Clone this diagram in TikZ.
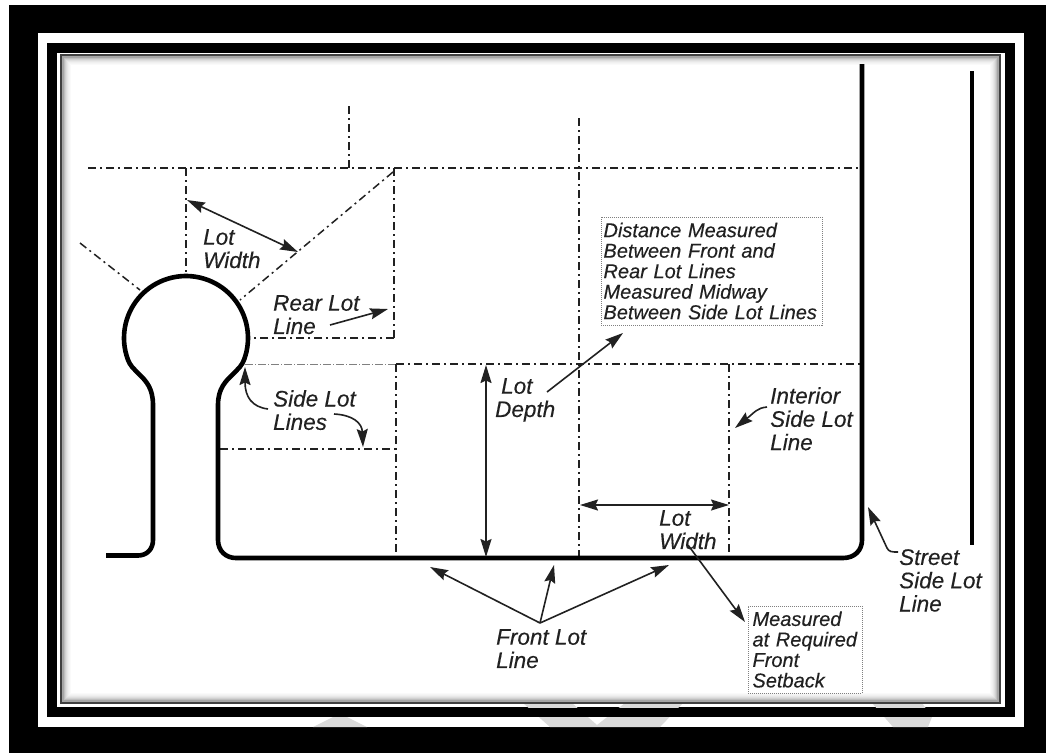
\documentclass[tikz,border=0pt]{standalone}
\usepackage{fontspec}
\setmainfont{Liberation Sans}[ItalicFeatures={FakeBold=0.25}]
\usetikzlibrary{arrows.meta}
\definecolor{wm}{gray}{0.86}
\definecolor{ink}{gray}{0.13}
\tikzset{
  x=1pt,y=-1pt,
  lotline/.style={ink,line width=1.5pt,dash pattern=on 8pt off 4pt on 2pt off 4pt},
  lotheavy/.style={lotline,line width=2pt},
  faintline/.style={gray,line width=0.8pt,dash pattern=on 8pt off 2pt on 1pt off 2pt},
  street/.style={black,line width=4.6pt,line join=round},
  tipped/.tip={Stealth[length=18pt,width=11pt,inset=2.5pt]},
  dim/.style={ink,line width=1.6pt,-tipped},
  dimboth/.style={ink,line width=1.6pt,tipped-tipped},
  lab/.style={inner sep=0pt,anchor=north west,align=left,text=ink,font=\fontsize{22.5}{23.3}\selectfont\itshape},
  note/.style={draw=gray,densely dotted,line width=1pt,inner xsep=2.5pt,inner ysep=0pt,anchor=center,align=left,text=ink,font=\fontsize{20}{20.5}\selectfont\itshape},
}
\newcommand{\wmshapes}{%
  \fill[wm] (313,727) -- (333,717) -- (347,717) -- (367,727) -- cycle;
  \fill[wm] (523,703) -- (572,703) -- (597,725) -- (625,703) -- (683,703) -- (660,727) -- (550,727) -- cycle;
  \fill[wm] (872,703) -- (922,703) -- (932,717) -- (928,727) -- (893,727) -- cycle;
}
\begin{document}
\begin{tikzpicture}
\useasboundingbox (0,0) rectangle (1046,753);
% frame
\fill[white] (0,0) rectangle (1046,753);
\fill[black] (9,5) rectangle (1046,753);
\fill[white] (38,33) rectangle (1024,727);
\begin{scope}\clip (38,717) rectangle (1024,727);\wmshapes\end{scope}
\fill[black] (47,43) rectangle (1015,717);
\fill[white] (57,53) rectangle (1005,707);
\begin{scope}\clip (57,703) rectangle (1005,707);\wmshapes\end{scope}
\fill[white] (61,55) rectangle (1000,703);
\foreach \i/\g in {9/2,8/4,7/6,6/9,5/13,4/18,3/25,2/35}{
  \draw[black!\g,line width=1.1pt] (61+\i,55+\i) rectangle (1000-\i,703-\i);
}
\draw[black!75,line width=2.2pt] (61,55) rectangle (1000,703);
% lot lines
\draw[lotline] (88,168) -- (862,168);
\draw[lotline] (349,106) -- (349,168);
\draw[lotline] (186,168) -- (186,276);
\draw[lotline] (393,172) -- (240,300);
\draw[lotheavy] (394,168) -- (394,338);
\draw[lotline] (394,338) -- (249,338);
\draw[lotline] (80,243) -- (140,290);
\draw[faintline] (245,364) -- (396,364);
\draw[lotline] (396,364) -- (862,364);
\draw[lotheavy] (396,364) -- (396,558);
\draw[lotline] (220,449) -- (396,449);
\draw[lotheavy] (579,118) -- (579,558);
\draw[lotline] (729,364) -- (729,558);
% streets
\draw[street] (106,555.5) -- (138,555.5) .. controls (147,555.5) and (153,549) .. (153,540)
  -- (153,405) .. controls (153,388) and (146,381) .. (139,374)
  .. controls (133,368) and (130,365.5) .. (127.7,359.2)
  -- plot[domain=160:380,samples=60,variable=\t] ({186+62*cos(\t)},{338+62*sin(\t)})
  .. controls (242,365.5) and (239,368) .. (233,374)
  .. controls (226,381) and (218,388) .. (218,405)
  -- (218,540) .. controls (218,551) and (226,558) .. (236,558)
  -- (843,558) .. controls (855,558) and (862,550) .. (862,540) -- (862,64);
\draw[street] (972,71) -- (972,545);
% labels
\node[lab] (lw1) at (203,229) {Lot\\Width};
\node[lab] (rear) at (273,295) {Rear Lot\\Line};
\node[lab] (side) at (273,390) {Side Lot\\Lines};
\node[lab] (depth) at (495,378) {\hspace*{6pt}Lot\\Depth};
\node[lab] (lw2) at (659,510) {Lot\\Width};
\node[lab] (front) at (496,629) {Front Lot\\Line};
\node[lab] (inter) at (770,387) {Interior\\Side Lot\\Line};
\node[lab] (sstreet) at (899,549) {Street\\Side Lot\\Line};
\node[note,minimum width=221pt,minimum height=108pt,text width=216pt] (box1) at (711.5,271) {Distance Measured\\Between Front and\\Rear Lot Lines\\Measured Midway\\Between Side Lot Lines};
\node[note,inner xsep=4.5pt,minimum width=114pt,minimum height=87pt,text width=105pt] (box2) at (805,649.5) {Measured\\at Required\\Front\\Setback};
% arrows
\draw[dimboth] (187,200) -- (298,252);
\draw[dim] (330,325) -- (388,309);
\draw[dim] (268,409) .. controls (252,407) and (245,397) .. (245,367);
\draw[dim] (334,414) .. controls (353,415) and (362,423) .. (363,447);
\draw[dimboth] (486,365) -- (486,557);
\draw[dim] (547,392) -- (623,333);
\draw[dim] (767,407) .. controls (757,408) and (755,412) .. (735,428);
\draw[dimboth] (580,505) -- (729,505);
\coordinate (fl) at (540,623);
\draw[dim] (fl) -- (430,567);
\draw[dim] (fl) -- (554,565);
\draw[dim] (fl) -- (669,565);
\draw[dim] (688,545) -- (745,622);
\draw[dim] (898,552) .. controls (892,552) and (889,552) .. (887,548) -- (868,507);
\end{tikzpicture}
\end{document}
